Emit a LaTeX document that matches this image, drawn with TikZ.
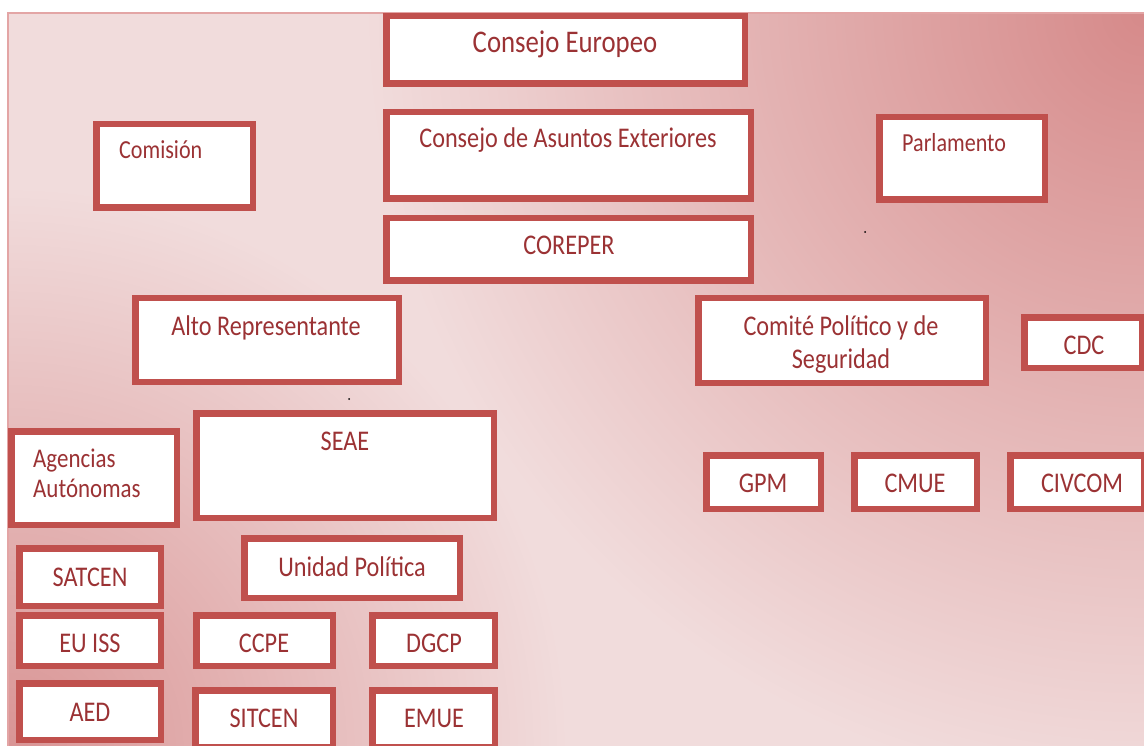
\documentclass[tikz,border=0pt]{standalone}
\usepackage{fontspec}
\setmainfont[FakeStretch=0.85]{Carlito}
\usetikzlibrary{positioning}
\definecolor{frame}{HTML}{C0504D}
\definecolor{ink}{HTML}{9B3234}
\definecolor{bgtr}{HTML}{D68A8A}
\definecolor{bgbl}{HTML}{D99494}
\definecolor{bglight}{HTML}{F1DCDC}
\definecolor{bgline}{HTML}{E3A5A5}
\pgfdeclareradialshading{fadetr}{\pgfpoint{0bp}{0bp}}{color(0bp)=(bgtr); color(25bp)=(bglight); color(50bp)=(bglight)}
\pgfdeclareradialshading{fadebl}{\pgfpoint{0bp}{0bp}}{color(0bp)=(bgbl); color(25bp)=(bglight); color(50bp)=(bglight)}

\begin{document}
\begin{tikzpicture}[x=1pt,y=-1pt,
    box/.style={draw=frame,line width=6.5pt,fill=white,inner sep=0pt,anchor=north west},
    tx/.style={text=ink,font=\fontsize{28.5}{33}\selectfont,anchor=base,inner sep=0pt},
    txbig/.style={tx,font=\fontsize{31.5}{36}\selectfont},
    txsmall/.style={tx,font=\fontsize{26}{31}\selectfont}]
      \useasboundingbox (0,0) rectangle (1144,746);
      % fondo
      \begin{scope}
        \clip (8,13) rectangle (1170,770);
        \fill[bglight] (8,13) rectangle (1170,770);
        \shade[shading=fadetr] (1144,13) circle (780);
        \shade[shading=fadebl] (8,746) circle (560);
      \end{scope}
      \draw[bgline,line width=2pt] (8,13) rectangle (1170,770);
      % consejo
      \node[box,minimum width=358.5,minimum height=67.5] (ce) at (383,13) {};
      \node[box,minimum width=364.5,minimum height=86.5] (cae) at (383,109) {};
      \node[box,minimum width=364.5,minimum height=62.5] (coreper) at (383,215) {};
      \node[txbig] (ce-t) at (565,53) {Consejo Europeo};
      \node[tx] (cae-t) at (568,148) {Consejo de Asuntos Exteriores};
      \node[tx] (coreper-t) at (569,255) {COREPER};
      % comision y parlamento
      \node[box,minimum width=156.5,minimum height=83.5] (comision) at (93,121) {};
      \node[box,minimum width=165.5,minimum height=82.5] (parlamento) at (876,114) {};
      \node[txsmall,anchor=base west] (comision-t) at (119,159) {Comisión};
      \node[txsmall,anchor=base west] (parlamento-t) at (902,152) {Parlamento};
      \fill (865,232) circle (1);
      \fill (349,399) circle (1);
      % alto representante
      \node[box,minimum width=263.5,minimum height=83.5] (alto) at (132,295) {};
      \node[tx] (alto-t) at (266,335) {Alto Representante};
      \node[box,minimum width=165.5,minimum height=93.5] (agencias) at (8,428) {};
      \node[tx,anchor=base west,align=left,font=\fontsize{27}{30}\selectfont] (agencias-t) at (33,497) {Agencias\\Autónomas};
      \node[box,minimum width=297.5,minimum height=104.5] (seae) at (193,410) {};
      \node[tx] (seae-t) at (345,450) {SEAE};
      \node[box,minimum width=141.5,minimum height=57.5] (satcen) at (16,545) {};
      \node[box,minimum width=141.5,minimum height=50.5] (euiss) at (16,612) {};
      \node[box,minimum width=141.5,minimum height=56.5] (aed) at (16,680) {};
      \node[tx] (satcen-t) at (90,586) {SATCEN};
      \node[tx] (euiss-t) at (90,652) {EU ISS};
      \node[tx] (aed-t) at (90,721) {AED};
      \node[box,minimum width=215.5,minimum height=59.5] (unidad) at (241,535) {};
      \node[tx] (unidad-t) at (352,576) {Unidad Política};
      \node[box,minimum width=136.5,minimum height=50.5] (ccpe) at (193,612) {};
      \node[box,minimum width=122.5,minimum height=50.5] (dgcp) at (369,612) {};
      \node[box,minimum width=137.5,minimum height=56.5] (sitcen) at (192,687) {};
      \node[box,minimum width=122.5,minimum height=56.5] (emue) at (369,687) {};
      \node[tx] (ccpe-t) at (264,652) {CCPE};
      \node[tx] (dgcp-t) at (434,652) {DGCP};
      \node[tx] (sitcen-t) at (264,727) {SITCEN};
      \node[tx] (emue-t) at (434,727) {EMUE};
      % comite politico y de seguridad
      \node[box,minimum width=287.5,minimum height=84.5] (cps) at (695,295) {};
      \node[tx,align=center] (cps-t) at (841,368) {Comité Político y de\\Seguridad};
      \node[box,minimum width=117.5,minimum height=50.5] (cdc) at (1021,314) {};
      \node[tx] (cdc-t) at (1084,354) {CDC};
      \node[box,minimum width=114.5,minimum height=53.5] (gpm) at (703,452) {};
      \node[box,minimum width=122.5,minimum height=53.5] (cmue) at (851,452) {};
      \node[box,minimum width=133.5,minimum height=53.5] (civcom) at (1007,452) {};
      \node[tx] (gpm-t) at (763,492) {GPM};
      \node[tx] (cmue-t) at (915,492) {CMUE};
      \node[tx] (civcom-t) at (1082,492) {CIVCOM};
\end{tikzpicture}
\end{document}
